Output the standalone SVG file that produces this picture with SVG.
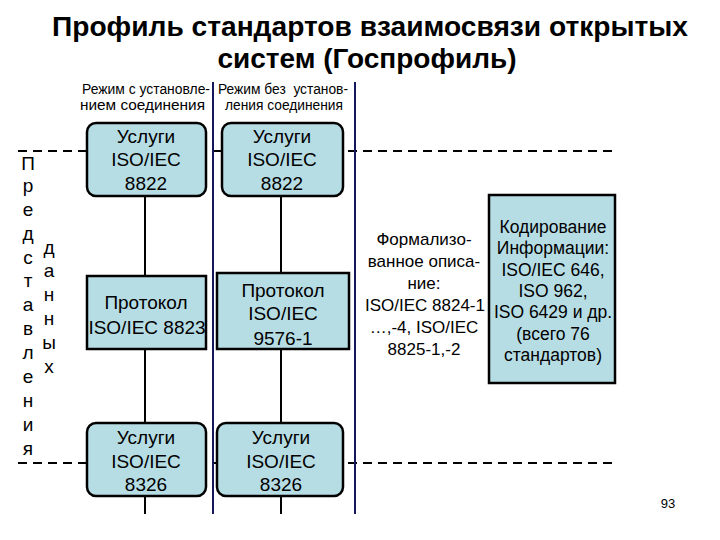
<svg xmlns="http://www.w3.org/2000/svg" width="720" height="540" viewBox="0 0 720 540">
<style>
text{font-family:"Liberation Sans",Arial,sans-serif;fill:#000}
.title{font-size:28px;font-weight:bold;text-anchor:middle}
.hdr{font-size:14px}
.box{fill:#b7dde4;stroke:#000;stroke-width:2.5}
.bt{font-size:19px;text-anchor:middle}
.vl{font-size:19px;text-anchor:middle}
.rt{font-size:17px;text-anchor:middle}
.kt{font-size:17.5px;text-anchor:middle}
.dash{stroke:#000;stroke-width:2;stroke-dasharray:9 6;fill:none}
.nav{stroke:#16165e;stroke-width:2}
.con{stroke:#000;stroke-width:2}
</style>
<rect width="720" height="540" fill="#fff"/>
<g id="title">
<text class="title" x="370" y="36" textLength="636" lengthAdjust="spacingAndGlyphs">Профиль стандартов взаимосвязи открытых</text>
<text class="title" x="367" y="68" textLength="299" lengthAdjust="spacingAndGlyphs">систем (Госпрофиль)</text>
</g>
<g id="headers">
<text class="hdr" x="82" y="94" textLength="128" lengthAdjust="spacingAndGlyphs">Режим с установле-</text>
<text class="hdr" x="80" y="110" textLength="125" lengthAdjust="spacingAndGlyphs">нием соединения</text>
<text class="hdr" x="218" y="94" textLength="130" lengthAdjust="spacingAndGlyphs" xml:space="preserve">Режим без  установ-</text>
<text class="hdr" x="225" y="110" textLength="118" lengthAdjust="spacingAndGlyphs">ления соединения</text>
</g>
<g id="guides">
<line class="dash" x1="18" y1="151" x2="612" y2="151"/>
<line class="dash" x1="18" y1="463" x2="612" y2="463"/>
<line class="nav" x1="213" y1="82" x2="213" y2="514"/>
<line class="nav" x1="355" y1="82" x2="355" y2="514"/>
</g>
<g id="connectors">
<line class="con" x1="145" y1="196" x2="145" y2="276"/>
<line class="con" x1="145" y1="349" x2="145" y2="423"/>
<line class="con" x1="145" y1="496" x2="145" y2="514"/>
<line class="con" x1="281" y1="196" x2="281" y2="273"/>
<line class="con" x1="281" y1="349" x2="281" y2="423"/>
<line class="con" x1="281" y1="496" x2="281" y2="514"/>
</g>
<g id="left-labels">
<text class="vl" x="28"><tspan x="28" y="170">П</tspan><tspan x="28" y="192">р</tspan><tspan x="28" y="216">е</tspan><tspan x="28" y="240">д</tspan><tspan x="28" y="264">с</tspan><tspan x="28" y="287">т</tspan><tspan x="28" y="311">а</tspan><tspan x="28" y="335">в</tspan><tspan x="28" y="359">л</tspan><tspan x="28" y="383">е</tspan><tspan x="28" y="407">н</tspan><tspan x="28" y="431">и</tspan><tspan x="28" y="455">я</tspan></text>
<text class="vl" x="49"><tspan x="49" y="254">д</tspan><tspan x="49" y="277">а</tspan><tspan x="49" y="301">н</tspan><tspan x="49" y="325">н</tspan><tspan x="49" y="349">ы</tspan><tspan x="49" y="373">х</tspan></text>
</g>
<g id="n1">
<rect class="box" x="87" y="123" width="119" height="73" rx="9"/>
<text class="bt"><tspan x="146" y="143">Услуги</tspan><tspan x="146" y="166">ISO/IEC</tspan><tspan x="146" y="190">8822</tspan></text>
</g>
<g id="n2">
<rect class="box" x="222" y="123" width="121" height="73" rx="9"/>
<text class="bt"><tspan x="282" y="143">Услуги</tspan><tspan x="282" y="166">ISO/IEC</tspan><tspan x="282" y="190">8822</tspan></text>
</g>
<g id="n3">
<rect class="box" x="87" y="276" width="119" height="73"/>
<text class="bt"><tspan x="146" y="309">Протокол</tspan><tspan x="147" y="334">ISO/IEC 8823</tspan></text>
</g>
<g id="n4">
<rect class="box" x="217" y="273" width="132" height="76"/>
<text class="bt"><tspan x="283" y="297">Протокол</tspan><tspan x="283" y="320">ISO/IEC</tspan><tspan x="283" y="345">9576-1</tspan></text>
</g>
<g id="n5">
<rect class="box" x="87" y="423" width="119" height="73" rx="9"/>
<text class="bt"><tspan x="146" y="444">Услуги</tspan><tspan x="146" y="468">ISO/IEC</tspan><tspan x="146" y="491">8326</tspan></text>
</g>
<g id="n6">
<rect class="box" x="217" y="423" width="126" height="73" rx="9"/>
<text class="bt"><tspan x="281" y="444">Услуги</tspan><tspan x="281" y="468">ISO/IEC</tspan><tspan x="281" y="491">8326</tspan></text>
</g>
<g id="formal">
<text class="rt"><tspan x="424" y="245">Формализо-</tspan><tspan x="424" y="267">ванное описа-</tspan><tspan x="424" y="289">ние:</tspan><tspan x="425" y="311">ISO/IEC 8824-1</tspan><tspan x="424" y="333">…,-4, ISO/IEC</tspan><tspan x="424" y="355">8825-1,-2</tspan></text>
</g>
<g id="n7">
<rect class="box" x="489" y="195" width="126" height="188"/>
<text class="kt"><tspan x="553" y="233">Кодирование</tspan><tspan x="553" y="254">Информации:</tspan><tspan x="553" y="276">ISO/IEC 646,</tspan><tspan x="553" y="297">ISO 962,</tspan><tspan x="553" y="318">ISO 6429 и др.</tspan><tspan x="553" y="340">(всего 76</tspan><tspan x="553" y="361">стандартов)</tspan></text>
</g>
<text x="668" y="508" font-size="13" text-anchor="middle">93</text>
</svg>
